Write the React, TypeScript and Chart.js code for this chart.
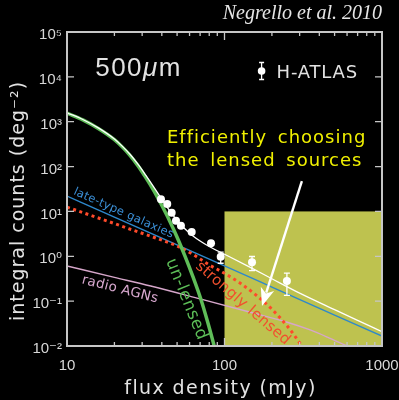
import { useEffect, useRef } from "react";
import { Chart, registerables } from "chart.js";

Chart.register(...registerables);

// ---------- axis ticks ----------
const X_TICKS = [10, 20, 30, 40, 50, 60, 70, 80, 90, 100, 200, 300, 400, 500, 600, 700, 800, 900, 1000];
const X_TICK_LABELS: Record<string, string> = { "10": "10", "100": "100", "1000": "1000" };
const Y_TICKS = [0.01, 0.1, 1, 10, 100, 1000, 10000, 100000];
const Y_TICK_LABELS = ["10⁻²", "10⁻¹", "10⁰", "10¹", "10²", "10³", "10⁴", "10⁵"];

// ---------- series ----------
const UNLENSED_X = [10, 12.6, 15.8, 20, 22.4, 25.1, 28.2, 31.6, 35.5, 39.8, 44.7, 50.1, 56.2, 63.1, 70.8, 79.4, 89.1];
const UNLENSED_Y = [1549, 1096, 708, 398, 275, 178, 105, 57.5, 29.5, 14.1, 6.31, 2.63, 1.0, 0.347, 0.11, 0.0282, 0.0063];

const TOTAL_X = [10, 12.6, 15.8, 20, 22.4, 25.1, 28.2, 31.6, 35.5, 39.8, 44.7, 50.1, 56.2, 63.1, 70.8, 79.4, 100, 150, 200, 300, 500, 700, 1000];
const TOTAL_Y = [1584, 1122, 727, 411, 286, 188, 113, 64.5, 35.4, 19.2, 10.6, 6.3, 4.05, 2.84, 2.13, 1.67, 1.11, 0.537, 0.316, 0.151, 0.0646, 0.0372, 0.0209];

const LATE_X = [10, 20, 50, 100, 200, 500, 1000];
const LATE_Y = [22, 7.5, 1.8, 0.61, 0.206, 0.049, 0.0167];

const LENSED_X = [10, 15, 20, 25, 32, 40, 50, 63, 79, 100, 126, 158, 200, 251, 300, 350];
const LENSED_Y = [12.5, 7.6, 5.37, 4.05, 3.02, 2.29, 1.7, 1.1, 0.66, 0.417, 0.251, 0.138, 0.066, 0.0275, 0.0117, 0.005];

const AGN_X = [10, 20, 34, 70, 150, 250, 350, 450, 600, 700];
const AGN_Y = [0.607, 0.339, 0.217, 0.112, 0.055, 0.0339, 0.0228, 0.0158, 0.01, 0.0079];

const HATLAS_X = [39.5, 43.3, 46.2, 49.2, 52.9, 61.9, 82.1, 94.6, 149.5, 249];
const HATLAS_Y = [18.6, 14.6, 9.4, 6.2, 4.8, 3.5, 1.95, 0.98, 0.74, 0.28];
const HATLAS_LO = [17.7, 13.9, 8.9, 5.9, 4.6, 3.3, 1.85, 0.7, 0.48, 0.134];
const HATLAS_HI = [19.5, 15.3, 9.9, 6.5, 5.0, 3.7, 2.05, 1.24, 0.99, 0.42];

// shaded selection region (flux range, count range)
const BOX_X = [100, 1000];
const BOX_Y = [0.01, 10];

// annotation anchors in data coordinates
const ARROW_FROM = { x: 310, y: 47.6 };
const ARROW_TO = { x: 173, y: 0.078 };
const BAND_LABEL = { x: 15.1, y: 10500, text: "500", unit: "μ", unit2: "m" };
const LEGEND_AT = { x: 172, y: 13500, text: "H-ATLAS" };
const NOTE_AT = { x: 43.1, y: 335, lines: ["Efficiently choosing", "the lensed sources"] };
const CURVE_LABELS = [
  { text: "late-type galaxies", x: 10.9, y: 24.5, angle: 24, size: 11.5, color: "#3b90d8" },
  { text: "radio AGNs", x: 12.3, y: 0.25, angle: 14.3, size: 13.5, color: "#d8a8cf" },
  { text: "un-lensed", x: 42.5, y: 0.785, angle: 68, size: 17, color: "#5cbd57" },
  { text: "strongly lensed", x: 65, y: 0.562, angle: 40.7, size: 15, color: "#f2502e" },
];

const TITLE = "Negrello et al. 2010";
const X_TITLE = "flux density (mJy)";
const Y_TITLE = "integral counts (deg⁻²)";

const zip = (xs: number[], ys: number[]) => xs.map((x, i) => ({ x, y: ys[i] }));

const SANS = "'DejaVu Sans', sans-serif";
const AXIS_COLOR = "#c6c6c6";
const TEXT_COLOR = "#e2e2e2";

const decorPlugin = {
  id: "decor",
  beforeDraw(chart: any) {
    const ctx = chart.ctx;
    ctx.save();
    ctx.fillStyle = "#000";
    ctx.fillRect(0, 0, chart.width, chart.height);
    ctx.restore();
  },
  beforeDatasetsDraw(chart: any) {
    const { ctx, chartArea: a, scales } = chart;
    const xs = scales.x, ys = scales.y;
    ctx.save();
    ctx.beginPath();
    ctx.rect(a.left, a.top, a.right - a.left, a.bottom - a.top);
    ctx.clip();
    const x0 = xs.getPixelForValue(BOX_X[0]);
    const x1 = xs.getPixelForValue(BOX_X[1]);
    const y0 = ys.getPixelForValue(BOX_Y[1]);
    const y1 = ys.getPixelForValue(BOX_Y[0]);
    ctx.fillStyle = "#bec24f";
    ctx.fillRect(x0, y0, x1 - x0, y1 - y0);
    ctx.restore();
  },
  afterDatasetsDraw(chart: any) {
    const { ctx, chartArea: a, scales } = chart;
    const xs = scales.x, ys = scales.y;

    // error bars
    ctx.save();
    ctx.strokeStyle = "#fff";
    ctx.lineWidth = 1.3;
    HATLAS_X.forEach((xv, i) => {
      const px = xs.getPixelForValue(xv);
      const lo = ys.getPixelForValue(HATLAS_LO[i]);
      const hi = ys.getPixelForValue(HATLAS_HI[i]);
      ctx.beginPath();
      ctx.moveTo(px, lo); ctx.lineTo(px, hi);
      ctx.moveTo(px - 3, hi); ctx.lineTo(px + 3, hi);
      ctx.moveTo(px - 3, lo); ctx.lineTo(px + 3, lo);
      ctx.stroke();
    });
    ctx.restore();

    // curve labels
    CURVE_LABELS.forEach((l) => {
      ctx.save();
      ctx.translate(xs.getPixelForValue(l.x), ys.getPixelForValue(l.y));
      ctx.rotate((l.angle * Math.PI) / 180);
      ctx.font = `${l.size}px ${SANS}`;
      ctx.fillStyle = l.color;
      ctx.textAlign = "left";
      ctx.textBaseline = "alphabetic";
      (ctx as any).letterSpacing = "0.3px";
      ctx.fillText(l.text, 0, 0);
      ctx.restore();
    });

    // arrow
    {
      const fx = xs.getPixelForValue(ARROW_FROM.x), fy = ys.getPixelForValue(ARROW_FROM.y);
      const tx = xs.getPixelForValue(ARROW_TO.x), ty = ys.getPixelForValue(ARROW_TO.y);
      const ang = Math.atan2(ty - fy, tx - fx);
      const headLen = 18, headW = 7;
      const bx = tx - headLen * Math.cos(ang), by = ty - headLen * Math.sin(ang);
      ctx.save();
      ctx.strokeStyle = "#fff";
      ctx.fillStyle = "#fff";
      ctx.lineWidth = 2.4;
      ctx.beginPath();
      ctx.moveTo(fx, fy);
      ctx.lineTo(bx + 4 * Math.cos(ang), by + 4 * Math.sin(ang));
      ctx.stroke();
      ctx.beginPath();
      ctx.moveTo(tx, ty);
      ctx.lineTo(bx - headW * Math.sin(ang), by + headW * Math.cos(ang));
      ctx.lineTo(bx + 5 * Math.cos(ang), by + 5 * Math.sin(ang));
      ctx.lineTo(bx + headW * Math.sin(ang), by - headW * Math.cos(ang));
      ctx.closePath();
      ctx.fill();
      ctx.restore();
    }

    // yellow note
    ctx.save();
    ctx.font = `18px ${SANS}`;
    ctx.fillStyle = "#f0f000";
    (ctx as any).letterSpacing = "1px";
    (ctx as any).wordSpacing = "4px";
    const nx = xs.getPixelForValue(NOTE_AT.x), ny = ys.getPixelForValue(NOTE_AT.y);
    NOTE_AT.lines.forEach((t, i) => ctx.fillText(t, nx, ny + i * 23));
    ctx.restore();

    // band label 500μm
    ctx.save();
    ctx.fillStyle = TEXT_COLOR;
    (ctx as any).letterSpacing = "1.5px";
    let bx = xs.getPixelForValue(BAND_LABEL.x);
    const by = ys.getPixelForValue(BAND_LABEL.y);
    ctx.font = `26px 'Liberation Sans', sans-serif`;
    ctx.fillText(BAND_LABEL.text, bx, by);
    bx += ctx.measureText(BAND_LABEL.text).width;
    ctx.font = `italic 26px 'Liberation Sans', sans-serif`;
    ctx.fillText(BAND_LABEL.unit, bx, by);
    bx += ctx.measureText(BAND_LABEL.unit).width;
    ctx.font = `26px 'Liberation Sans', sans-serif`;
    ctx.fillText(BAND_LABEL.unit2, bx, by);
    ctx.restore();

    // legend
    ctx.save();
    const lx = xs.getPixelForValue(LEGEND_AT.x), ly = ys.getPixelForValue(LEGEND_AT.y);
    ctx.strokeStyle = "#fff";
    ctx.fillStyle = "#fff";
    ctx.lineWidth = 1.3;
    ctx.beginPath();
    ctx.moveTo(lx, ly - 8.5); ctx.lineTo(lx, ly + 8.5);
    ctx.moveTo(lx - 2.5, ly - 8.5); ctx.lineTo(lx + 2.5, ly - 8.5);
    ctx.moveTo(lx - 2.5, ly + 8.5); ctx.lineTo(lx + 2.5, ly + 8.5);
    ctx.stroke();
    ctx.beginPath();
    ctx.arc(lx, ly, 3.8, 0, Math.PI * 2);
    ctx.fill();
    ctx.fillStyle = TEXT_COLOR;
    ctx.font = `18px ${SANS}`;
    (ctx as any).letterSpacing = "0.8px";
    ctx.textBaseline = "alphabetic";
    ctx.fillText(LEGEND_AT.text, lx + 15, ly + 7);
    ctx.restore();

    // axis titles
    ctx.save();
    ctx.fillStyle = TEXT_COLOR;
    ctx.font = `19px ${SANS}`;
    (ctx as any).letterSpacing = "1.4px";
    ctx.textAlign = "center";
    ctx.textBaseline = "alphabetic";
    ctx.fillText(X_TITLE, (a.left + a.right) / 2 - 4, 394);
    ctx.translate(24, (a.top + a.bottom) / 2 + 12);
    ctx.rotate(-Math.PI / 2);
    (ctx as any).letterSpacing = "1px";
    ctx.fillText(Y_TITLE, 0, 0);
    ctx.restore();

    // frame and inward ticks
    ctx.save();
    ctx.strokeStyle = AXIS_COLOR;
    ctx.lineWidth = 2;
    ctx.strokeRect(a.left, a.top, a.right - a.left, a.bottom - a.top);
    ctx.lineWidth = 1.3;
    ctx.beginPath();
    Y_TICKS.forEach((v) => {
      const py = ys.getPixelForValue(v);
      ctx.moveTo(a.left, py); ctx.lineTo(a.left + 7, py);
      ctx.moveTo(a.right, py); ctx.lineTo(a.right - 7, py);
    });
    X_TICKS.forEach((v) => {
      const px = xs.getPixelForValue(v);
      const major = Math.abs(Math.log10(v) - Math.round(Math.log10(v))) < 1e-9;
      const len = major ? 8 : 4;
      ctx.moveTo(px, a.bottom); ctx.lineTo(px, a.bottom - len);
      ctx.moveTo(px, a.top); ctx.lineTo(px, a.top + len);
    });
    ctx.stroke();
    ctx.restore();
  },
};

export default function App() {
  const ref = useRef<HTMLCanvasElement>(null);
  useEffect(() => {
    document.body.style.margin = "0";
    document.body.style.background = "#000";
    const lineBase = { type: "line" as const, pointRadius: 0, fill: false, cubicInterpolationMode: "monotone" as const };
    const chart = new Chart(ref.current as HTMLCanvasElement, {
      type: "line",
      data: {
        datasets: [
          {
            type: "scatter",
            label: "H-ATLAS",
            data: zip(HATLAS_X, HATLAS_Y),
            pointRadius: 4,
            pointBackgroundColor: "#fff",
            pointBorderWidth: 0,
            showLine: false,
          } as any,
          { ...lineBase, label: "total", data: zip(TOTAL_X, TOTAL_Y), borderColor: "#ffffff", borderWidth: 1.3 },
          { ...lineBase, label: "un-lensed", data: zip(UNLENSED_X, UNLENSED_Y), borderColor: "#5fbd58", borderWidth: 3.5 },
          { ...lineBase, label: "strongly lensed", data: zip(LENSED_X, LENSED_Y), borderColor: "#ff4a2a", borderWidth: 3, borderDash: [3, 3.5], borderCapStyle: "butt" },
          { ...lineBase, label: "late-type galaxies", data: zip(LATE_X, LATE_Y), borderColor: "#2e88cc", borderWidth: 1.4 },
          { ...lineBase, label: "radio AGNs", data: zip(AGN_X, AGN_Y), borderColor: "#d6a6ca", borderWidth: 1.4 },
        ],
      },
      options: {
        responsive: false,
        animation: false,
        devicePixelRatio: 1,
        events: [],
        layout: { padding: { left: 0, right: 17, top: 0, bottom: 0 } },
        plugins: {
          legend: { display: false },
          tooltip: { enabled: false },
          title: {
            display: true,
            text: TITLE,
            align: "end",
            color: "#e6e6e6",
            font: { family: "'Liberation Serif', serif", size: 20, style: "italic", weight: "normal" },
            padding: { top: 2, bottom: 6 },
          },
        },
        scales: {
          x: {
            type: "logarithmic",
            min: 10,
            max: 1000,
            afterBuildTicks: (s: any) => { s.ticks = X_TICKS.map((v) => ({ value: v })); },
            afterFit: (s: any) => { s.height = 54; s.paddingLeft = 0; s.paddingRight = 0; },
            grid: { display: false, drawTicks: false, tickLength: 0 },
            border: { display: false },
            ticks: {
              autoSkip: false,
              maxRotation: 0,
              minRotation: 0,
              padding: 11,
              color: "#d8d8d8",
              font: { family: "'Liberation Sans', 'DejaVu Sans', sans-serif", size: 15 },
              callback: (v: any) => X_TICK_LABELS[String(v)] ?? "",
            },
          },
          y: {
            type: "logarithmic",
            min: 0.01,
            max: 100000,
            afterBuildTicks: (s: any) => { s.ticks = Y_TICKS.map((v) => ({ value: v })); },
            afterFit: (s: any) => { s.width = 67; s.paddingTop = 0; s.paddingBottom = 0; },
            grid: { display: false, drawTicks: false, tickLength: 0 },
            border: { display: false },
            ticks: {
              autoSkip: false,
              padding: 5,
              labelOffset: 3,
              color: "#d8d8d8",
              font: { family: "'Liberation Sans', 'DejaVu Sans', sans-serif", size: 15 },
              callback: (v: any) => {
                const i = Y_TICKS.findIndex((t) => Math.abs(Math.log10(t) - Math.log10(v)) < 1e-6);
                return i >= 0 ? Y_TICK_LABELS[i] : "";
              },
            },
          },
        },
      } as any,
      plugins: [decorPlugin],
    });
    return () => chart.destroy();
  }, []);
  return (
    <div style={{ position: "fixed", left: 0, top: 0, width: 399, height: 400, background: "#000" }}>
      <canvas ref={ref} width={399} height={400} style={{ display: "block" }} />
    </div>
  );
}
